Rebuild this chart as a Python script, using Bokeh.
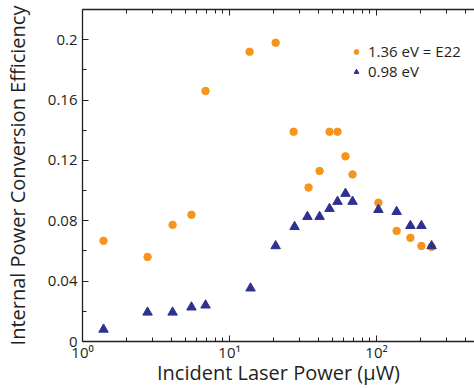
from bokeh.plotting import figure
from bokeh.models import LogAxis, FixedTicker, Legend, LegendItem, Range1d
from bokeh.embed import file_html
from bokeh.resources import INLINE

# Data (power in µW, efficiency)
power_e22 = [1.39, 2.77, 4.10, 5.51, 6.87, 13.7, 20.6, 27.3, 34.5, 41.0, 47.9, 54.3, 61.5, 68.7, 103, 137, 170, 202, 237]
eff_e22 = [0.0667, 0.056, 0.0773, 0.084, 0.166, 0.192, 0.198, 0.139, 0.102, 0.113, 0.139, 0.139, 0.1227, 0.1107, 0.092, 0.0733, 0.0687, 0.0633, 0.0627]

power_098 = [1.39, 2.77, 4.10, 5.51, 6.87, 13.9, 20.6, 27.7, 33.9, 41.0, 47.9, 54.3, 61.5, 68.7, 103, 137, 170, 202, 237]
eff_098 = [0.008, 0.0193, 0.0193, 0.0227, 0.024, 0.0353, 0.0633, 0.076, 0.0827, 0.0827, 0.088, 0.0927, 0.098, 0.0927, 0.0873, 0.086, 0.0767, 0.0767, 0.0633]

label_e22 = "1.36 eV = E22"
label_098 = "0.98 eV"

x_major = [1, 10, 100]
x_minor = [2, 3, 4, 5, 6, 7, 8, 9, 20, 30, 40, 50, 60, 70, 80, 90, 200, 300, 400]
x_tick_labels = {1: "10⁰", 10: "10¹", 100: "10²"}
y_major = [0, 0.04, 0.08, 0.12, 0.16, 0.2]
y_minor = [0.02, 0.06, 0.10, 0.14, 0.18]
y_tick_labels = {0: "0", 0.04: "0.04", 0.08: "0.08", 0.12: "0.12", 0.16: "0.16", 0.2: "0.2"}

FONT = "Open Sans"
TXT = "#231F20"
ORANGE = "#F7941D"
BLUE = "#2E3192"

p = figure(width=474, height=388, x_axis_type="log", output_backend="svg",
           toolbar_location=None, x_range=Range1d(1, 464), y_range=Range1d(0, 0.22),
           min_border_left=82, min_border_right=0, min_border_top=9, min_border_bottom=0)
p.outline_line_color = None
p.grid.visible = False
p.background_fill_color = "white"
p.border_fill_color = "white"

r1 = p.scatter(power_e22, eff_e22, marker="circle", size=7.5, fill_color=ORANGE, line_color=ORANGE)
r2 = p.scatter(power_098, eff_098, marker="triangle", size=9.5, fill_color=BLUE, line_color=BLUE)

def style_axis(ax):
    ax.axis_line_color = TXT
    ax.axis_line_width = 1.3
    ax.major_tick_line_color = TXT
    ax.minor_tick_line_color = TXT
    ax.major_tick_in = 6
    ax.major_tick_out = 0
    ax.minor_tick_in = 4
    ax.minor_tick_out = 0
    ax.major_label_text_font = FONT
    ax.major_label_text_font_size = "15px"
    ax.major_label_text_color = TXT
    ax.axis_label_text_font = FONT
    ax.axis_label_text_font_size = "20px"
    ax.axis_label_text_font_style = "normal"
    ax.axis_label_text_color = TXT

xa = p.xaxis[0]
style_axis(xa)
xa.ticker = FixedTicker(ticks=x_major, minor_ticks=x_minor)
xa.major_label_overrides = x_tick_labels
xa.axis_label = "Incident Laser Power (µW)"
xa.major_label_standoff = 0
xa.axis_label_standoff = -6

ya = p.yaxis[0]
style_axis(ya)
ya.ticker = FixedTicker(ticks=y_major, minor_ticks=y_minor)
ya.major_label_overrides = y_tick_labels
ya.axis_label = "Internal Power Conversion Efficiency"
ya.major_label_standoff = 5
ya.axis_label_standoff = 14

top = LogAxis(ticker=FixedTicker(ticks=x_major, minor_ticks=x_minor))
style_axis(top)
top.major_label_text_font_size = "1px"
top.major_label_text_alpha = 0
top.major_label_standoff = 0
p.add_layout(top, "above")

legend = Legend(items=[LegendItem(label=label_e22, renderers=[r1]),
                       LegendItem(label=label_098, renderers=[r2])],
                location=(268, 260), background_fill_alpha=0, border_line_color=None,
                label_text_font=FONT, label_text_font_size="15px", label_text_color=TXT,
                glyph_width=12, glyph_height=17, padding=0, spacing=0, margin=0,
                label_standoff=6, label_height=17)
p.add_layout(legend)

open("out.html", "w").write(file_html(p, INLINE))
